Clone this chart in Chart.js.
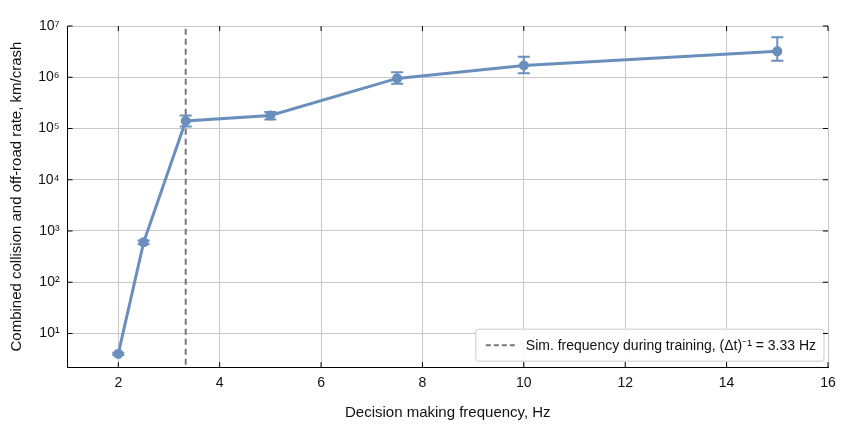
<!DOCTYPE html>
<html><head><meta charset="utf-8">
<script src="https://cdn.jsdelivr.net/npm/chart.js@4"></script>
<style>body{margin:0;background:#fff}#w{width:850px;height:436px}</style>
</head><body><div id="w"><canvas id="c"></canvas></div>
<script>
const freqs=[2,2.5,3.33,5,7.5,10,15];
const rates=[4,600,1.4e5,1.8e5,9.5e5,1.7e6,3.2e6];
const errLow=[3.8,550,1.1e5,1.5e5,7.5e5,1.2e6,2.1e6];
const errHigh=[4.2,650,1.8e5,2.1e5,1.25e6,2.5e6,6e6];
const trainFreq=3.33;
const yTicks=[1e1,1e2,1e3,1e4,1e5,1e6,1e7];
const xTicks=[2,4,6,8,10,12,14,16];
const legendText='Sim. frequency during training, (Δt)⁻¹ = 3.33 Hz';
const sup={'1':'¹','2':'²','3':'³','4':'⁴','5':'⁵','6':'⁶','7':'⁷'};
const blue='#6a8fbd';
const F='"Liberation Sans", Arial, sans-serif';
const errPlugin={id:'err',afterDatasetsDraw(ch){
 const c=ch.ctx,x=ch.scales.x,y=ch.scales.y;c.save();c.strokeStyle=blue;c.lineWidth=2;
 freqs.forEach((f,i)=>{const px=x.getPixelForValue(f),a=y.getPixelForValue(errLow[i]),b=y.getPixelForValue(errHigh[i]);
  c.beginPath();c.moveTo(px,a);c.lineTo(px,b);c.moveTo(px-6,a);c.lineTo(px+6,a);c.moveTo(px-6,b);c.lineTo(px+6,b);c.stroke();});
 const ca=ch.chartArea;c.font='14px '+F;const tw=c.measureText(legendText).width;
 const w=tw+58,h=32,lx=ca.right-w-4,ly=ca.bottom-h-6;
 c.fillStyle='rgba(255,255,255,0.9)';c.strokeStyle='#ccc';c.lineWidth=1;c.beginPath();c.roundRect(lx,ly,w,h,3);c.fill();c.stroke();
 c.strokeStyle='#777';c.lineWidth=2;c.setLineDash([5,3]);c.beginPath();c.moveTo(lx+10,ly+h/2);c.lineTo(lx+40,ly+h/2);c.stroke();c.setLineDash([]);
 c.fillStyle='#111';c.textBaseline='middle';c.fillText(legendText,lx+50,ly+h/2+1);
 c.strokeStyle='#000';c.lineWidth=1;c.beginPath();
 xTicks.forEach(t=>{const px=x.getPixelForValue(t);c.moveTo(px,ca.bottom);c.lineTo(px,ca.bottom-5);c.moveTo(px,ca.top);c.lineTo(px,ca.top+5);});
 yTicks.forEach(t=>{const py=y.getPixelForValue(t);c.moveTo(ca.left,py);c.lineTo(ca.left+5,py);c.moveTo(ca.right,py);c.lineTo(ca.right-5,py);});
 c.stroke();c.restore();}};
new Chart(document.getElementById('c'),{type:'scatter',
 data:{datasets:[
  {data:freqs.map((f,i)=>({x:f,y:rates[i]})),showLine:true,borderColor:blue,backgroundColor:blue,borderWidth:3,pointRadius:3.5,order:1},
  {data:[{x:trainFreq,y:1},{x:trainFreq,y:1e8}],showLine:true,borderColor:'#777',borderWidth:2,borderDash:[6,4],pointRadius:0,order:2}
 ]},
 options:{responsive:true,maintainAspectRatio:false,animation:false,
  layout:{padding:{left:4,right:22,top:26,bottom:10}},
  plugins:{legend:{display:false},tooltip:{enabled:false}},
  scales:{
   x:{type:'linear',min:1,max:16,afterBuildTicks:a=>{a.ticks=xTicks.map(v=>({value:v}))},
    grid:{color:'#c8c8c8',drawTicks:false},border:{color:'#000',width:1},
    ticks:{color:'#111',font:{size:14,family:F},padding:8},
    title:{display:true,text:'Decision making frequency, Hz',color:'#111',font:{size:15,family:F}}},
   y:{type:'logarithmic',min:2.2,max:1e7,afterBuildTicks:a=>{a.ticks=yTicks.map(v=>({value:v}))},
    grid:{color:'#c8c8c8',drawTicks:false},border:{color:'#000',width:1},
    ticks:{color:'#111',font:{size:14,family:F},padding:8,callback:v=>'10'+sup[String(Math.round(Math.log10(v)))]},
    title:{display:true,text:'Combined collision and off-road rate, km/crash',color:'#111',font:{size:15,family:F}}}
  }},
 plugins:[errPlugin]});
</script></body></html>
